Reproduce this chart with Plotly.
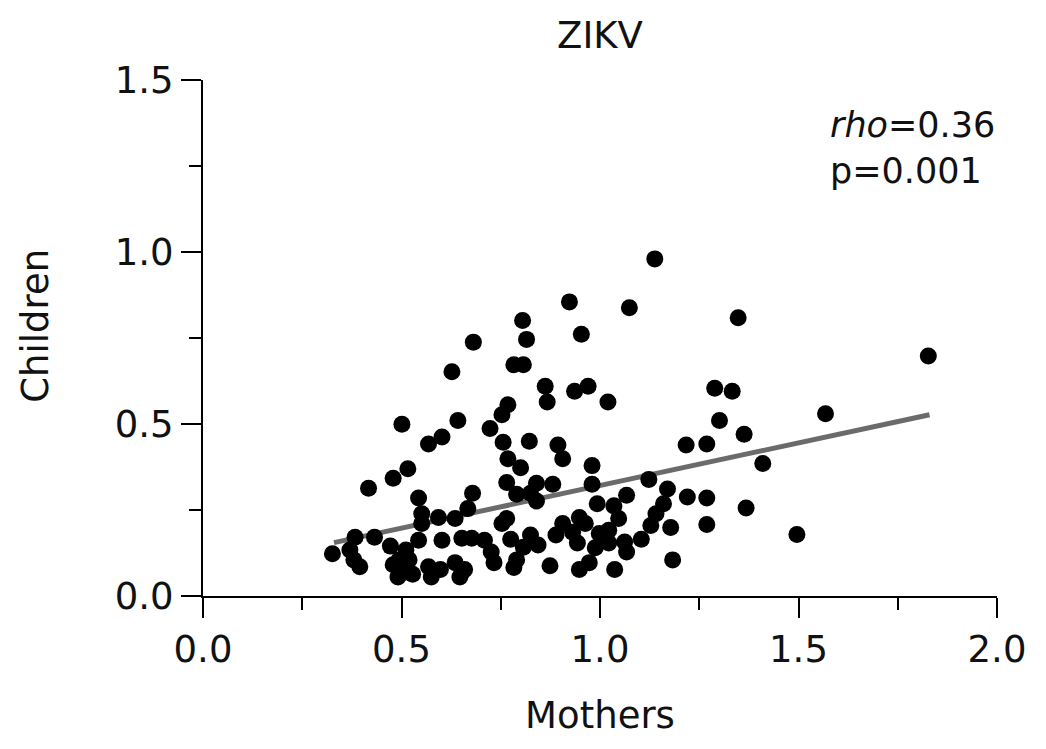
import plotly.graph_objects as go

# Mothers (x) and Children (y) values
mothers = [
    1.138, 0.923, 1.074, 1.348, 1.827, 0.805, 0.815, 0.953, 0.681, 0.627,
    0.783, 0.807, 0.862, 0.867, 0.936, 0.970, 1.020, 0.768, 0.753, 0.642,
    0.501, 0.723, 0.602, 0.568, 0.756, 0.822, 0.894, 0.906, 0.980, 0.768,
    0.800, 0.516, 0.479, 0.417, 1.289, 1.333, 1.301, 1.363, 1.568, 1.217,
    1.269, 1.410, 1.220, 1.269, 1.368, 1.269, 1.496, 1.123, 1.067, 1.170,
    1.160, 1.141, 1.128, 1.178, 1.047, 1.035, 1.104, 1.062, 1.067, 1.183,
    1.037, 0.765, 0.840, 0.881, 0.980, 0.679, 0.790, 0.825, 0.840, 0.667,
    0.765, 0.753, 0.993, 0.948, 0.963, 0.906, 0.889, 0.931, 0.998, 1.022,
    0.943, 0.988, 1.022, 0.677, 0.709, 0.775, 0.825, 0.844, 0.807, 0.726,
    0.733, 0.790, 0.783, 0.874, 0.948, 0.973, 0.659, 0.543, 0.551, 0.593,
    0.635, 0.551, 0.383, 0.432, 0.472, 0.543, 0.602, 0.652, 0.326, 0.370,
    0.511, 0.380, 0.395, 0.479, 0.504, 0.528, 0.568, 0.598, 0.635, 0.652,
    0.494, 0.519, 0.575, 0.647, 0.491,
]
children = [
    0.980, 0.855, 0.838, 0.809, 0.698, 0.801, 0.746, 0.761, 0.738, 0.652,
    0.672, 0.672, 0.610, 0.564, 0.595, 0.610, 0.564, 0.556, 0.527, 0.510,
    0.499, 0.487, 0.462, 0.442, 0.447, 0.450, 0.439, 0.399, 0.379, 0.399,
    0.373, 0.370, 0.342, 0.313, 0.604, 0.595, 0.510, 0.470, 0.530, 0.439,
    0.442, 0.385, 0.288, 0.285, 0.256, 0.208, 0.179, 0.339, 0.293, 0.311,
    0.268, 0.239, 0.205, 0.199, 0.225, 0.262, 0.165, 0.157, 0.128, 0.105,
    0.077, 0.330, 0.328, 0.325, 0.325, 0.299, 0.296, 0.299, 0.276, 0.254,
    0.225, 0.211, 0.268, 0.228, 0.211, 0.211, 0.177, 0.185, 0.182, 0.191,
    0.154, 0.140, 0.154, 0.168, 0.162, 0.165, 0.177, 0.148, 0.142, 0.128,
    0.097, 0.105, 0.083, 0.088, 0.077, 0.097, 0.077, 0.285, 0.239, 0.228,
    0.225, 0.211, 0.171, 0.171, 0.145, 0.162, 0.162, 0.168, 0.123, 0.134,
    0.134, 0.105, 0.085, 0.091, 0.068, 0.063, 0.085, 0.077, 0.097, 0.068,
    0.105, 0.105, 0.055, 0.055, 0.055,
]

# Regression line end points
fit_x = [0.33, 1.83]
fit_y = [0.155, 0.527]

title_text = "ZIKV"
x_title = "Mothers"
y_title = "Children"
stats_text = "<i>rho</i>=0.36<br>p=0.001"

FONT = "DejaVu Sans"
W, H = 1030, 733  # the page body keeps its 8px margin

fig = go.Figure()
fig.add_trace(go.Scatter(
    x=fit_x, y=fit_y, mode="lines",
    line=dict(color="#6b6b6b", width=5),
    showlegend=False, hoverinfo="skip",
))
fig.add_trace(go.Scatter(
    x=mothers, y=children, mode="markers",
    marker=dict(color="black", size=17, line=dict(width=0)),
    showlegend=False, hoverinfo="skip",
))

axis_common = dict(
    showline=True, linecolor="black", linewidth=2,
    ticks="outside", ticklen=20, tickwidth=2, tickcolor="black",
    showgrid=False, zeroline=False, tickformat=".1f",
    tickfont=dict(family=FONT, size=37, color="#111111"),
    title_font=dict(family=FONT, size=37, color="#111111"),
)
minor_common = dict(ticks="outside", ticklen=12, tickwidth=2, tickcolor="black", dtick=0.25)

fig.update_xaxes(
    range=[0, 2], dtick=0.5, tick0=0, minor=minor_common,
    title_text=x_title, title_standoff=32,
    **axis_common,
)
fig.update_yaxes(
    range=[0, 1.5], dtick=0.5, tick0=0, minor=minor_common,
    **axis_common,
)

fig.update_layout(
    width=W, height=H,
    margin=dict(l=195, r=31, t=72, b=134),
    plot_bgcolor="white", paper_bgcolor="white",
    hovermode=False,
    title=dict(text=title_text, x=0.5, xref="paper", xanchor="center",
               y=1 - 27 / H, yref="container", yanchor="middle",
               font=dict(family=FONT, size=37, color="#111111")),
    annotations=[
        dict(
            text=stats_text, xref="paper", yref="paper",
            x=0.787, y=0.955, xanchor="left", yanchor="top", align="left",
            showarrow=False, font=dict(family=FONT, size=35, color="#111111"),
        ),
        dict(
            text=y_title, xref="paper", yref="paper",
            x=-0.2114, y=0.524, xanchor="center", yanchor="middle",
            textangle=-90, showarrow=False,
            font=dict(family=FONT, size=37, color="#111111"),
        ),
    ],
)

fig.write_html("out.html", config={"displayModeBar": False, "staticPlot": True})
